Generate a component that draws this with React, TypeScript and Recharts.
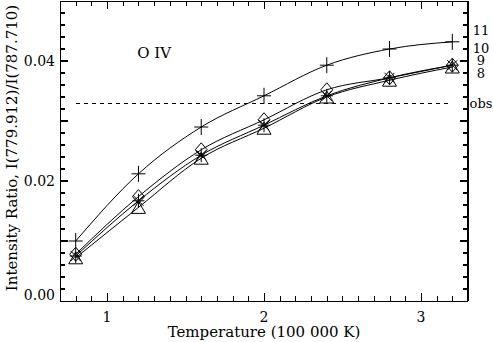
import React from "react";
import {
  LineChart,
  Line,
  XAxis,
  YAxis,
  ReferenceLine,
  ReferenceDot,
} from "recharts";

// Temperature in units of 100 000 K
const temps = [0.8, 1.2, 1.6, 2.0, 2.4, 2.8, 3.2];

// intensity ratio for the four curves (labelled 11, 10, 9, 8 on the right)
const ratio11 = [0.01, 0.0212, 0.029, 0.0342, 0.0393, 0.042, 0.0432];
const ratio10 = [0.0078, 0.0174, 0.0252, 0.0302, 0.0352, 0.0372, 0.0393];
const ratio9 = [0.0075, 0.0167, 0.0243, 0.0293, 0.0342, 0.0372, 0.0393];
const ratio8 = [0.0072, 0.0156, 0.0238, 0.0288, 0.034, 0.0368, 0.039];

const observed = 0.033;

const xTickLabels = [1, 2, 3];
const yTickLabels = [0.0, 0.02, 0.04];

const curveLabels = [
  { text: "11", y: 0.0451 },
  { text: "10", y: 0.0421 },
  { text: "9", y: 0.0401 },
  { text: "8", y: 0.038 },
  { text: "obs", y: observed },
];

const FONT = "'DejaVu Serif', serif";
const X_DOMAIN: [number, number] = [0.7, 3.3];
const Y_DOMAIN: [number, number] = [0, 0.05];

// chart and plot box in pixels
const W = 493;
const H = 342;
const MARGIN = { top: 1, right: 25, bottom: 0, left: 0 };
const Y_AXIS_W = 60;
const X_AXIS_H = 41;
const PLOT_L = MARGIN.left + Y_AXIS_W;
const PLOT_T = MARGIN.top;
const PLOT_W = W - MARGIN.right - PLOT_L;
const PLOT_H = H - MARGIN.bottom - X_AXIS_H - PLOT_T;
const xUnit = (px: number) => (px * (X_DOMAIN[1] - X_DOMAIN[0])) / PLOT_W;
const xPix = (v: number) => PLOT_L + ((v - X_DOMAIN[0]) / (X_DOMAIN[1] - X_DOMAIN[0])) * PLOT_W;

const data = temps.map((t, i) => ({
  t,
  r11: ratio11[i],
  r10: ratio10[i],
  r9: ratio9[i],
  r8: ratio8[i],
}));

// frame ticks: minor every 0.1 / 0.002, longer ones on the majors
const xTicks = Array.from({ length: 25 }, (_, i) => Math.round((0.8 + i * 0.1) * 10) / 10);
const yTicks = Array.from({ length: 24 }, (_, i) => ((i + 1) * 2) / 1000);
const isMajorX = (v: number) => Math.abs(v - Math.round(v)) < 1e-6;
const isMajorY = (v: number) => Math.abs(v * 100 - Math.round(v * 100)) < 1e-6;

function PlusMark({ cx, cy }: any) {
  return (
    <g stroke="#000" strokeWidth={1} fill="none">
      <line x1={cx - 7} y1={cy} x2={cx + 7} y2={cy} />
      <line x1={cx} y1={cy - 8} x2={cx} y2={cy + 8} />
    </g>
  );
}

function DiamondMark({ cx, cy }: any) {
  return (
    <path
      d={`M${cx},${cy - 7} L${cx + 6},${cy} L${cx},${cy + 7} L${cx - 6},${cy} Z`}
      stroke="#000"
      strokeWidth={1}
      fill="none"
    />
  );
}

function StarMark({ cx, cy }: any) {
  return (
    <g stroke="#000" strokeWidth={1} fill="none">
      <line x1={cx - 6} y1={cy} x2={cx + 6} y2={cy} />
      <line x1={cx} y1={cy - 7} x2={cx} y2={cy + 7} />
      <line x1={cx - 5} y1={cy - 5} x2={cx + 5} y2={cy + 5} />
      <line x1={cx - 5} y1={cy + 5} x2={cx + 5} y2={cy - 5} />
    </g>
  );
}

function TriangleMark({ cx, cy }: any) {
  return (
    <path
      d={`M${cx - 7},${cy + 6} L${cx + 7},${cy + 6} L${cx},${cy - 6} Z`}
      stroke="#000"
      strokeWidth={1}
      fill="none"
    />
  );
}

const frameLine = {
  xAxisId: "x",
  yAxisId: "y",
  ifOverflow: "visible" as const,
  stroke: "#000",
  strokeWidth: 1.2,
  shapeRendering: "crispEdges",
};

function sideTicks() {
  const out: React.ReactElement[] = [];
  yTicks.forEach((v) => {
    const len = xUnit(isMajorY(v) ? 8 : 5);
    out.push(
      <ReferenceLine key={`l${v}`} {...frameLine}
        segment={[{ x: X_DOMAIN[0], y: v }, { x: X_DOMAIN[0] + len, y: v }]} />,
      <ReferenceLine key={`r${v}`} {...frameLine}
        segment={[{ x: X_DOMAIN[1], y: v }, { x: X_DOMAIN[1] - len, y: v }]} />
    );
  });
  return out;
}

// top border and the inward ticks on the top and bottom edges
function FrameOverlay() {
  const bottom = PLOT_T + PLOT_H;
  return (
    <svg
      width={W}
      height={H}
      style={{ position: "absolute", left: 0, top: 0, pointerEvents: "none" }}
      shapeRendering="crispEdges"
    >
      <rect x={PLOT_L} y={PLOT_T - 0.5} width={PLOT_W + 0.5} height={1} fill="#000" />
      {xTicks.map((v) => {
        const len = isMajorX(v) ? 8 : 5;
        const x = Math.round(xPix(v)) - 0.5;
        return (
          <g key={v} fill="#000">
            <rect x={x} y={bottom - len} width={1} height={len} />
            <rect x={x} y={PLOT_T} width={1} height={len} />
          </g>
        );
      })}
    </svg>
  );
}

export default function App() {
  return (
    <div style={{ position: "fixed", left: 0, top: 0, width: W, height: H, background: "#fff" }}>
      <LineChart width={W} height={H} data={data} margin={MARGIN}>
        <XAxis
          xAxisId="x"
          dataKey="t"
          type="number"
          domain={X_DOMAIN}
          ticks={xTickLabels}
          interval={0}
          height={X_AXIS_H}
          tickSize={0}
          tickMargin={0}
          tickLine={false}
          axisLine={{ stroke: "#000", shapeRendering: "crispEdges" }}
          tick={(p: any) => (
            <text x={p.x} y={p.y + 21} textAnchor="middle" fontFamily={FONT} fontSize={14} fill="#000">
              {p.payload.value}
            </text>
          )}
          label={{
            content: (p: any) => (
              <text
                x={p.viewBox.x + p.viewBox.width / 2}
                y={337}
                textAnchor="middle"
                fontFamily={FONT}
                fontSize={15}
                fill="#000"
              >
                Temperature (100 000 K)
              </text>
            ),
          }}
        />
        <YAxis
          yAxisId="y"
          type="number"
          domain={Y_DOMAIN}
          ticks={yTickLabels}
          interval={0}
          width={Y_AXIS_W}
          tickSize={0}
          tickMargin={0}
          tickLine={false}
          axisLine={{ stroke: "#000", shapeRendering: "crispEdges" }}
          tick={(p: any) => {
            const v = p.payload.value;
            return (
              <text x={p.x - 5} y={v === 0 ? p.y - 1 : p.y + 5} textAnchor="end" fontFamily={FONT} fontSize={14} fill="#000">
                {v.toFixed(2)}
              </text>
            );
          }}
          label={{
            content: (p: any) => {
              const cx = 12;
              const cy = p.viewBox.y + p.viewBox.height / 2 - 3;
              return (
                <text
                  x={cx}
                  y={cy}
                  transform={`rotate(-90 ${cx} ${cy})`}
                  textAnchor="middle"
                  dominantBaseline="central"
                  fontFamily={FONT}
                  fontSize={15}
                  fill="#000"
                >
                  Intensity Ratio, I(779.912)/I(787.710)
                </text>
              );
            },
          }}
        />

        <ReferenceLine {...frameLine} x={X_DOMAIN[1]} />
        {sideTicks()}

        <ReferenceLine
          xAxisId="x"
          yAxisId="y"
          segment={[
            { x: temps[0], y: observed },
            { x: temps[temps.length - 1], y: observed },
          ]}
          stroke="#000"
          strokeDasharray="4 4"
          shapeRendering="crispEdges"
        />

        <Line xAxisId="x" yAxisId="y" type="monotone" dataKey="r11" stroke="#000" strokeWidth={1} isAnimationActive={false}
          dot={(p: any) => <PlusMark key={`p${p.index}`} cx={p.cx} cy={p.cy} />} />
        <Line xAxisId="x" yAxisId="y" type="monotone" dataKey="r10" stroke="#000" strokeWidth={1} isAnimationActive={false}
          dot={(p: any) => <DiamondMark key={`d${p.index}`} cx={p.cx} cy={p.cy} />} />
        <Line xAxisId="x" yAxisId="y" type="monotone" dataKey="r9" stroke="#000" strokeWidth={1} isAnimationActive={false}
          dot={(p: any) => <StarMark key={`s${p.index}`} cx={p.cx} cy={p.cy} />} />
        <Line xAxisId="x" yAxisId="y" type="monotone" dataKey="r8" stroke="#000" strokeWidth={1} isAnimationActive={false}
          dot={(p: any) => <TriangleMark key={`t${p.index}`} cx={p.cx} cy={p.cy} />} />

        {curveLabels.map((c) => (
          <ReferenceDot
            key={c.text}
            xAxisId="x"
            yAxisId="y"
            x={X_DOMAIN[1]}
            y={c.y}
            r={0}
            stroke="none"
            fill="none"
            ifOverflow="visible"
            label={{
              content: (p: any) => (
                <text
                  x={p.viewBox.x + 13}
                  y={p.viewBox.y + 5}
                  textAnchor="middle"
                  fontFamily={FONT}
                  fontSize={13}
                  fill="#000"
                >
                  {c.text}
                </text>
              ),
            }}
          />
        ))}

        <ReferenceDot
          xAxisId="x"
          yAxisId="y"
          x={1.3}
          y={0.0415}
          r={0}
          stroke="none"
          fill="none"
          label={{
            content: (p: any) => (
              <text x={p.viewBox.x} y={p.viewBox.y + 6} textAnchor="middle" fontFamily={FONT} fontSize={15} fill="#000">
                O IV
              </text>
            ),
          }}
        />
      </LineChart>
      <FrameOverlay />
    </div>
  );
}
